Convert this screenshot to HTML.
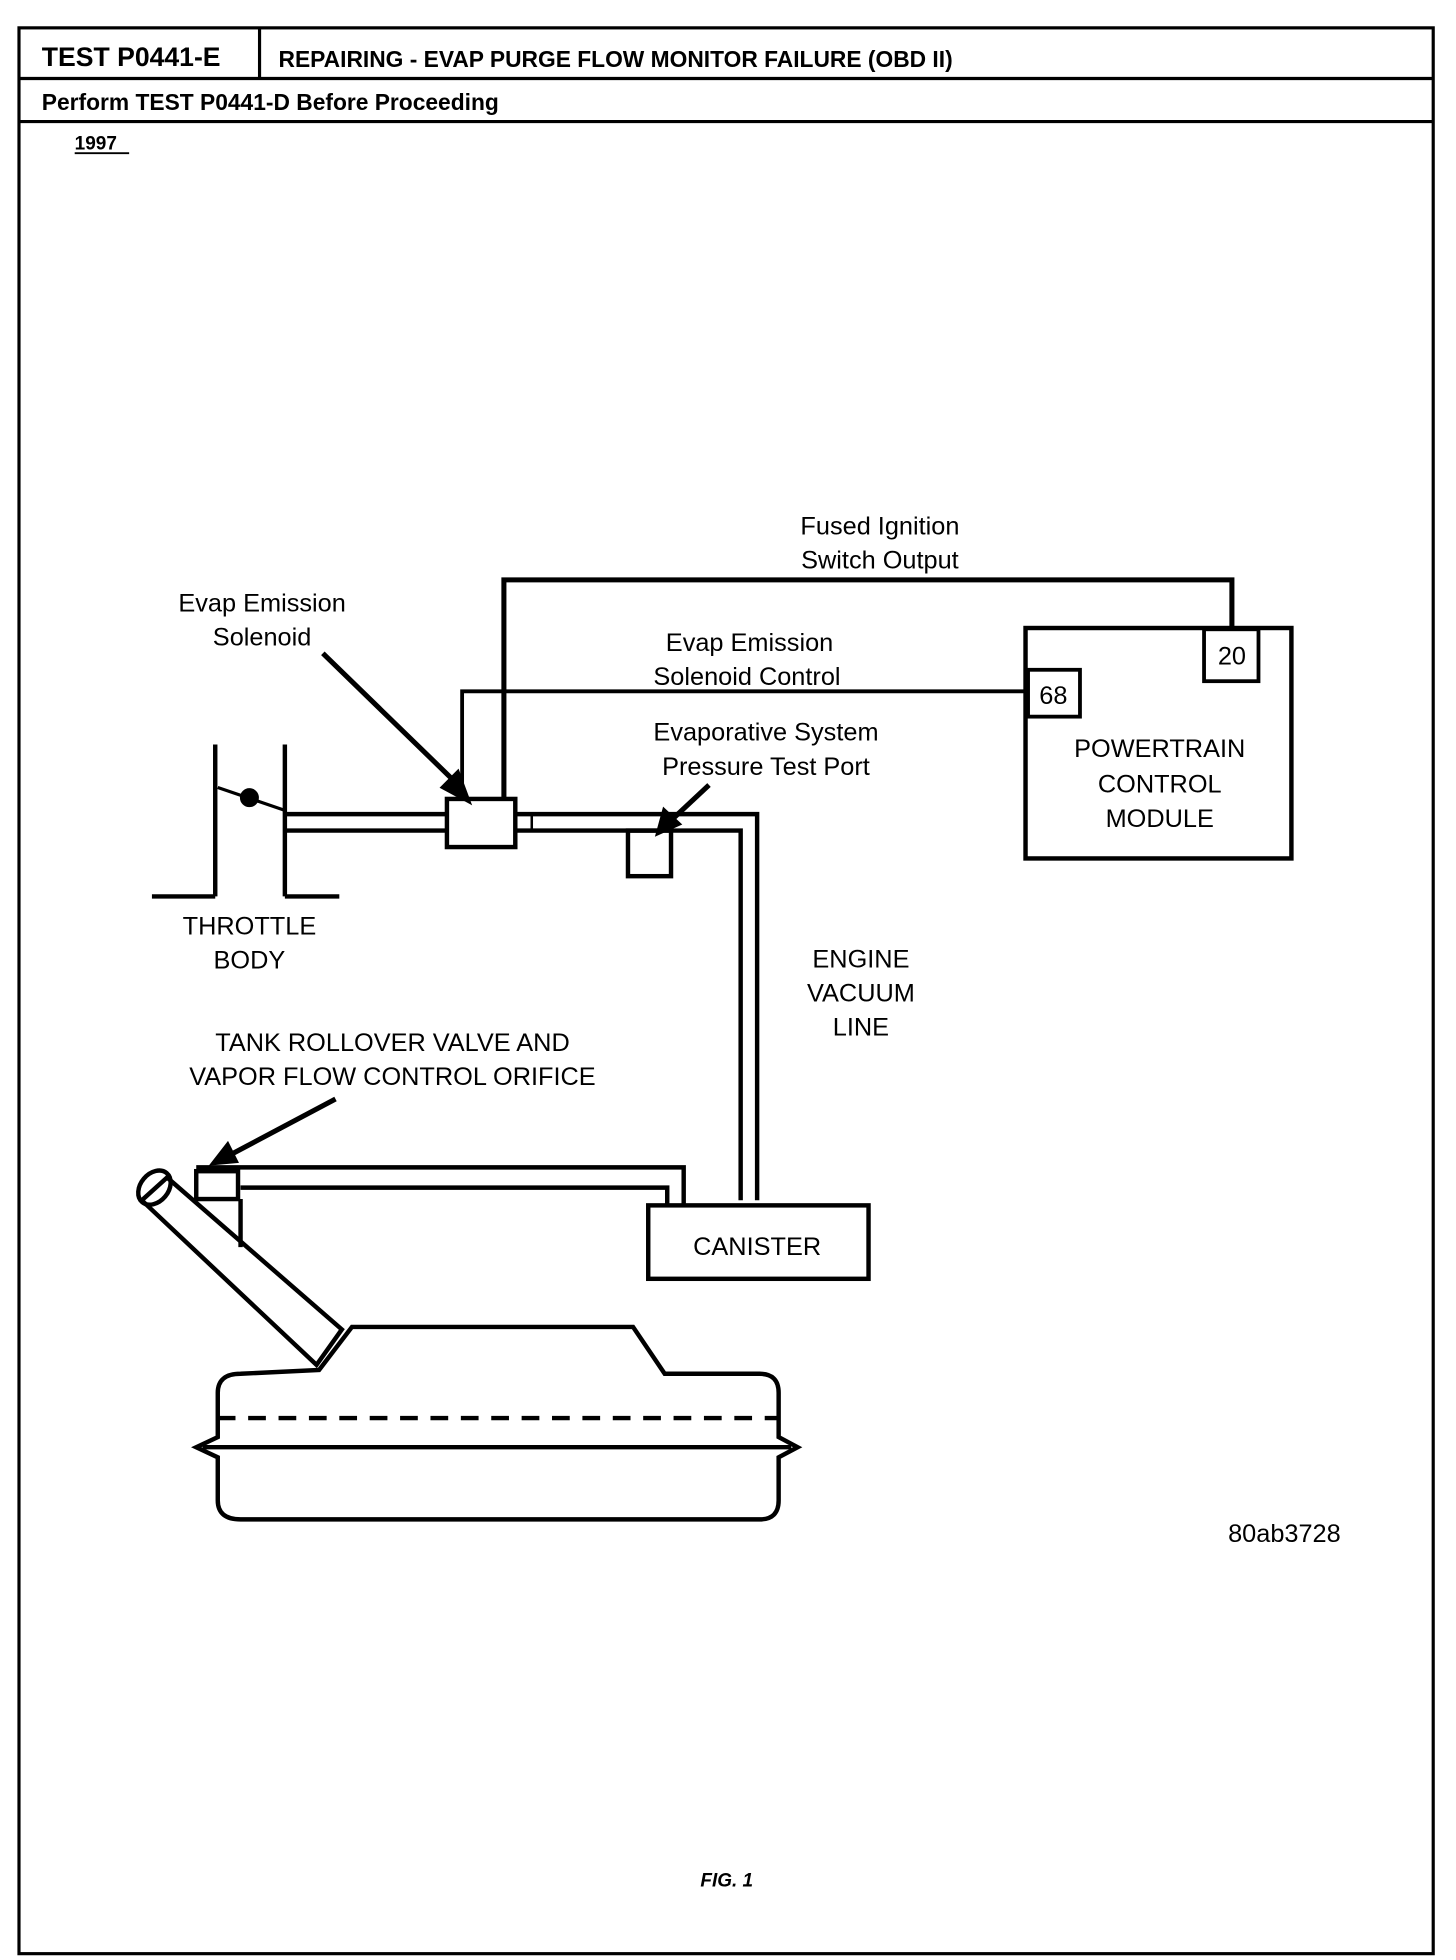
<!DOCTYPE html>
<html><head><meta charset="utf-8"><style>
html,body{margin:0;padding:0;background:#fff}
svg{display:block}
text{font-family:"Liberation Sans",Arial,sans-serif;fill:#000}
</style></head><body>
<svg width="1456" height="1960" viewBox="0 0 1150 1548" preserveAspectRatio="none" xmlns="http://www.w3.org/2000/svg">
<g fill="none" stroke="#000" stroke-width="2.5">
<rect x="15" y="22" width="1117" height="1521"/>
<line x1="15" y1="62" x2="1132" y2="62"/>
<line x1="15" y1="96" x2="1132" y2="96"/>
<line x1="205" y1="22" x2="205" y2="62"/>
</g>
<text x="33" y="52" font-size="21" font-weight="bold">TEST P0441-E</text>
<text x="220" y="53" font-size="18" font-weight="bold">REPAIRING - EVAP PURGE FLOW MONITOR FAILURE (OBD II)</text>
<text x="33" y="87" font-size="18" font-weight="bold">Perform TEST P0441-D Before Proceeding</text>
<text x="59" y="118" font-size="15" font-weight="bold">1997</text>
<line x1="59" y1="121" x2="102" y2="121" stroke="#000" stroke-width="1.5"/>

<g font-size="20" text-anchor="middle">
<text x="695" y="422">Fused Ignition</text>
<text x="695" y="449">Switch Output</text>
<text x="207" y="483">Evap Emission</text>
<text x="207" y="510">Solenoid</text>
<text x="592" y="514">Evap Emission</text>
<text x="590" y="541">Solenoid Control</text>
<text x="605" y="585">Evaporative System</text>
<text x="605" y="612">Pressure Test Port</text>
<text x="916" y="598">POWERTRAIN</text>
<text x="916" y="626">CONTROL</text>
<text x="916" y="653">MODULE</text>
<text x="197" y="738">THROTTLE</text>
<text x="197" y="765">BODY</text>
<text x="680" y="764">ENGINE</text>
<text x="680" y="791">VACUUM</text>
<text x="680" y="818">LINE</text>
<text x="310" y="830">TANK ROLLOVER VALVE AND</text>
<text x="310" y="857">VAPOR FLOW CONTROL ORIFICE</text>
<text x="598" y="991">CANISTER</text>
<text x="973" y="525">20</text>
<text x="832" y="556">68</text>
</g>
<text x="970" y="1218" font-size="20">80ab3728</text>
<text x="574" y="1490" font-size="15" font-weight="bold" font-style="italic" text-anchor="middle">FIG. 1</text>

<g fill="none" stroke="#000">
<polyline points="398,632 398,458 973,458 973,497" stroke-width="4"/>
<polyline points="365,632 365,546 812,546" stroke-width="3"/>
<rect x="810" y="496" width="210" height="182" stroke-width="3.5"/>
<rect x="951" y="497" width="43" height="41" stroke-width="3"/>
<rect x="812" y="529" width="41" height="37" stroke-width="3"/>
<g stroke-width="3.5">
<line x1="170" y1="588" x2="170" y2="708"/>
<line x1="225" y1="588" x2="225" y2="708"/>
<line x1="120" y1="708" x2="170" y2="708"/>
<line x1="225" y1="708" x2="268" y2="708"/>
</g>
<line x1="172" y1="622" x2="225" y2="640" stroke-width="2.5"/>
<g stroke-width="3.5">
<line x1="225" y1="643" x2="352" y2="643"/>
<line x1="225" y1="656" x2="352" y2="656"/>
<polyline points="407,643 598,643 598,948"/>
<polyline points="407,656 585,656 585,948"/>
<rect x="353" y="631" width="54" height="38"/>
<rect x="496" y="656" width="34" height="36"/>
<line x1="420" y1="643" x2="420" y2="656" stroke-width="2"/>
<polyline points="155,922 540,922 540,952"/>
<polyline points="190,938 527,938 527,952"/>
<rect x="155" y="925" width="33" height="22"/>
<line x1="190" y1="947" x2="190" y2="985"/>
<rect x="512" y="952" width="174" height="58"/>
<polygon points="112,948 132,930 270,1050 250,1078"/>
<ellipse cx="122" cy="938" rx="11" ry="15" transform="rotate(40 122 938)"/>
<path d="M252,1082 L278,1048 L500,1048 L525,1085 L600,1085 Q615,1085 615,1100 L615,1135 L630,1143 L615,1151 L615,1185 Q615,1200 600,1200 L190,1200 Q172,1200 172,1185 L172,1151 L155,1143 L172,1135 L172,1100 Q172,1085 190,1085 Z"/>
<line x1="160" y1="1143" x2="625" y2="1143"/>
<line x1="172" y1="1120" x2="615" y2="1120" stroke-dasharray="14,10"/>
</g>
<g stroke="#000" stroke-width="4" fill="#000">
<line x1="255" y1="516" x2="362" y2="620"/>
<polygon points="372,635 348,622 362,608" stroke-width="1"/>
<line x1="560" y1="620" x2="530" y2="648"/>
<polygon points="518,660 524,638 538,651" stroke-width="1"/>
<line x1="265" y1="868" x2="182" y2="912"/>
<polygon points="166,920 180,902 188,918" stroke-width="1"/>
</g>
<circle cx="197" cy="630" r="7" fill="#000"/>
</svg>
</body></html>
